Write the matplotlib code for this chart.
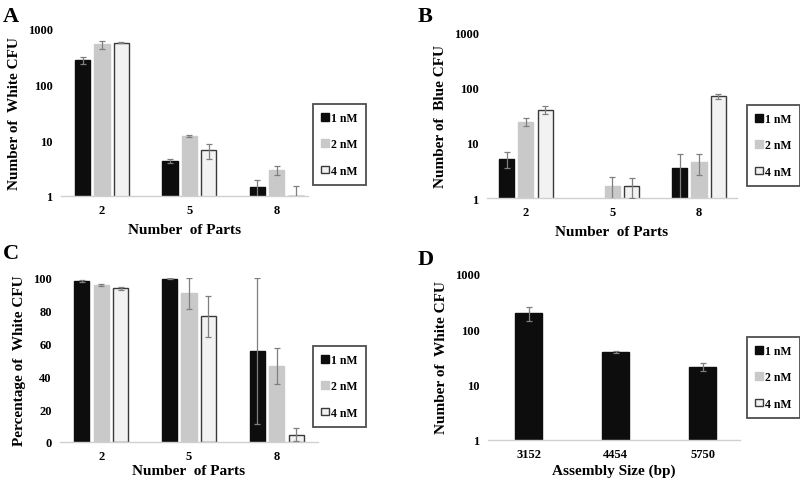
#!/usr/bin/env python3

import numpy as np
import matplotlib
matplotlib.use('Agg')
import matplotlib.pyplot as plt
from matplotlib.patches import Patch

plt.rcParams['font.family'] = ['Liberation Serif', 'DejaVu Serif']
plt.rcParams['font.weight'] = 'bold'
plt.rcParams['axes.labelweight'] = 'bold'

W, H = 800, 481

parts = ['2', '5', '8']
sizes = ['3152', '4454', '5750']
concs = ['1 nM', '2 nM', '4 nM']

# A: white CFU
a_1nm = [275, 4.3, 1.43]
a_1nm_err = [35, 0.4, 0.5]
a_2nm = [530, 11.8, 2.9]
a_2nm_err = [90, 0.5, 0.55]
a_4nm = [570, 6.6, 1.0]
a_4nm_err = [5, 2.0, 0.5]

# B: blue CFU
b_1nm = [5.1, np.nan, 3.5]
b_1nm_err = [1.6, np.nan, 2.7]
b_2nm = [24, 1.67, 4.4]
b_2nm_err = [4.3, 0.7, 1.8]
b_4nm = [39.6, 1.67, 69]
b_4nm_err = [6.5, 0.67, 7]

# C: percentage white
c_1nm = [98.3, 99.6, 55.4]
c_1nm_err = [0.5, 0.2, 44.5]
c_2nm = [95.8, 90.7, 46.5]
c_2nm_err = [0.8, 9.6, 10.9]
c_4nm = [93.7, 76.6, 4.4]
c_4nm_err = [0.8, 12.3, 3.9]

# D: white CFU vs assembly size
d_1nm = [199, 38.9, 20.9]
d_1nm_err = [55, 1.5, 3.6]

colors = ['#0d0d0d', '#c9c9c9', '#f2f2f2']
edges = ['#0d0d0d', '#c9c9c9', '#3a3a3a']
err_color = '#7f7f7f'


def px_axes(fig, x0, x1, ytop, ybot):
    return fig.add_axes([x0 / W, 1 - ybot / H, (x1 - x0) / W, (ybot - ytop) / H])


def style_axes(ax, labels, xlabel, ylabel, xpad=5):
    for side in ['left', 'right', 'top']:
        ax.spines[side].set_visible(False)
    ax.spines['bottom'].set_color('#d0d0d0')
    ax.spines['bottom'].set_linewidth(1)
    ax.tick_params(length=0, labelsize=9, pad=6)
    ax.set_xticks(range(len(labels)))
    ax.set_xticklabels(labels)
    ax.set_xlabel(xlabel, fontsize=11, fontweight='bold', labelpad=xpad)
    ax.set_ylabel(ylabel, fontsize=11, fontweight='bold', labelpad=5)
    for t in ax.get_xticklabels() + ax.get_yticklabels():
        t.set_fontweight('bold')


def draw_bars(ax, series, errs, width=0.175, step=0.222):
    x = np.arange(len(series[0]))
    n = len(series)
    for i, (vals, err) in enumerate(zip(series, errs)):
        off = (i - (n - 1) / 2) * step
        ax.bar(x + off, vals, width, color=colors[i], edgecolor=edges[i],
               linewidth=1, zorder=2)
        ax.errorbar(x + off, vals, yerr=err, fmt='none', ecolor=err_color,
                    elinewidth=0.9, capsize=2, capthick=0.9, zorder=3)


def log_axis(ax):
    ax.set_yscale('log')
    ax.set_ylim(1, 1000)
    ax.set_yticks([1, 10, 100, 1000])
    ax.set_yticklabels(['1', '10', '100', '1000'])
    ax.minorticks_off()


def add_legend(fig, x, y):
    handles = [Patch(facecolor=colors[i], edgecolor=edges[i], linewidth=1)
               for i in range(3)]
    leg = fig.legend(handles, concs, loc='upper left',
                     bbox_to_anchor=(x / W, 1 - y / H),
                     fontsize=8.5, handlelength=0.65, handleheight=0.65,
                     handletextpad=0.2, labelspacing=1.2, borderpad=0.7,
                     frameon=True, fancybox=False, borderaxespad=0)
    leg.get_frame().set_edgecolor('#222222')
    leg.get_frame().set_linewidth(1.3)
    for t in leg.get_texts():
        t.set_fontweight('bold')


fig = plt.figure(figsize=(8, 4.81), dpi=100)

# A
ax = px_axes(fig, 61, 308, 30, 197)
log_axis(ax)
draw_bars(ax, [a_1nm, a_2nm, a_4nm], [a_1nm_err, a_2nm_err, a_4nm_err])
ax.set_xlim(-0.47, 2.36)
style_axes(ax, parts, 'Number  of Parts', 'Number of  White CFU')
add_legend(fig, 313, 105)

# B
ax = px_axes(fig, 487, 737, 33, 199)
log_axis(ax)
draw_bars(ax, [b_1nm, b_2nm, b_4nm], [b_1nm_err, b_2nm_err, b_4nm_err])
ax.set_xlim(-0.45, 2.44)
style_axes(ax, parts, 'Number  of Parts', 'Number of  Blue CFU')
add_legend(fig, 747, 106)

# C
ax = px_axes(fig, 60, 318, 279, 443)
ax.set_ylim(0, 100)
ax.set_yticks(range(0, 101, 20))
draw_bars(ax, [c_1nm, c_2nm, c_4nm], [c_1nm_err, c_2nm_err, c_4nm_err])
ax.set_xlim(-0.47, 2.47)
style_axes(ax, parts, 'Number  of Parts', 'Percentage of  White CFU', xpad=1)
add_legend(fig, 313, 347)

# D
ax = px_axes(fig, 488, 740, 275, 441)
log_axis(ax)
xd = np.arange(len(sizes))
ax.bar(xd, d_1nm, 0.31, color=colors[0], edgecolor=edges[0], zorder=2)
ax.errorbar(xd, d_1nm, yerr=d_1nm_err, fmt='none', ecolor=err_color,
            elinewidth=0.9, capsize=2, capthick=0.9, zorder=3)
ax.set_xlim(-0.47, 2.43)
style_axes(ax, sizes, 'Assembly Size (bp)', 'Number of  White CFU', xpad=2)
add_legend(fig, 747, 338)

for letter, x, y in [('A', 3, 7), ('B', 418, 7), ('C', 3, 244), ('D', 418, 250)]:
    fig.text(x / W, 1 - y / H, letter, fontsize=16, fontweight='bold',
             va='top', ha='left')

fig.savefig('out.png', dpi=100)
